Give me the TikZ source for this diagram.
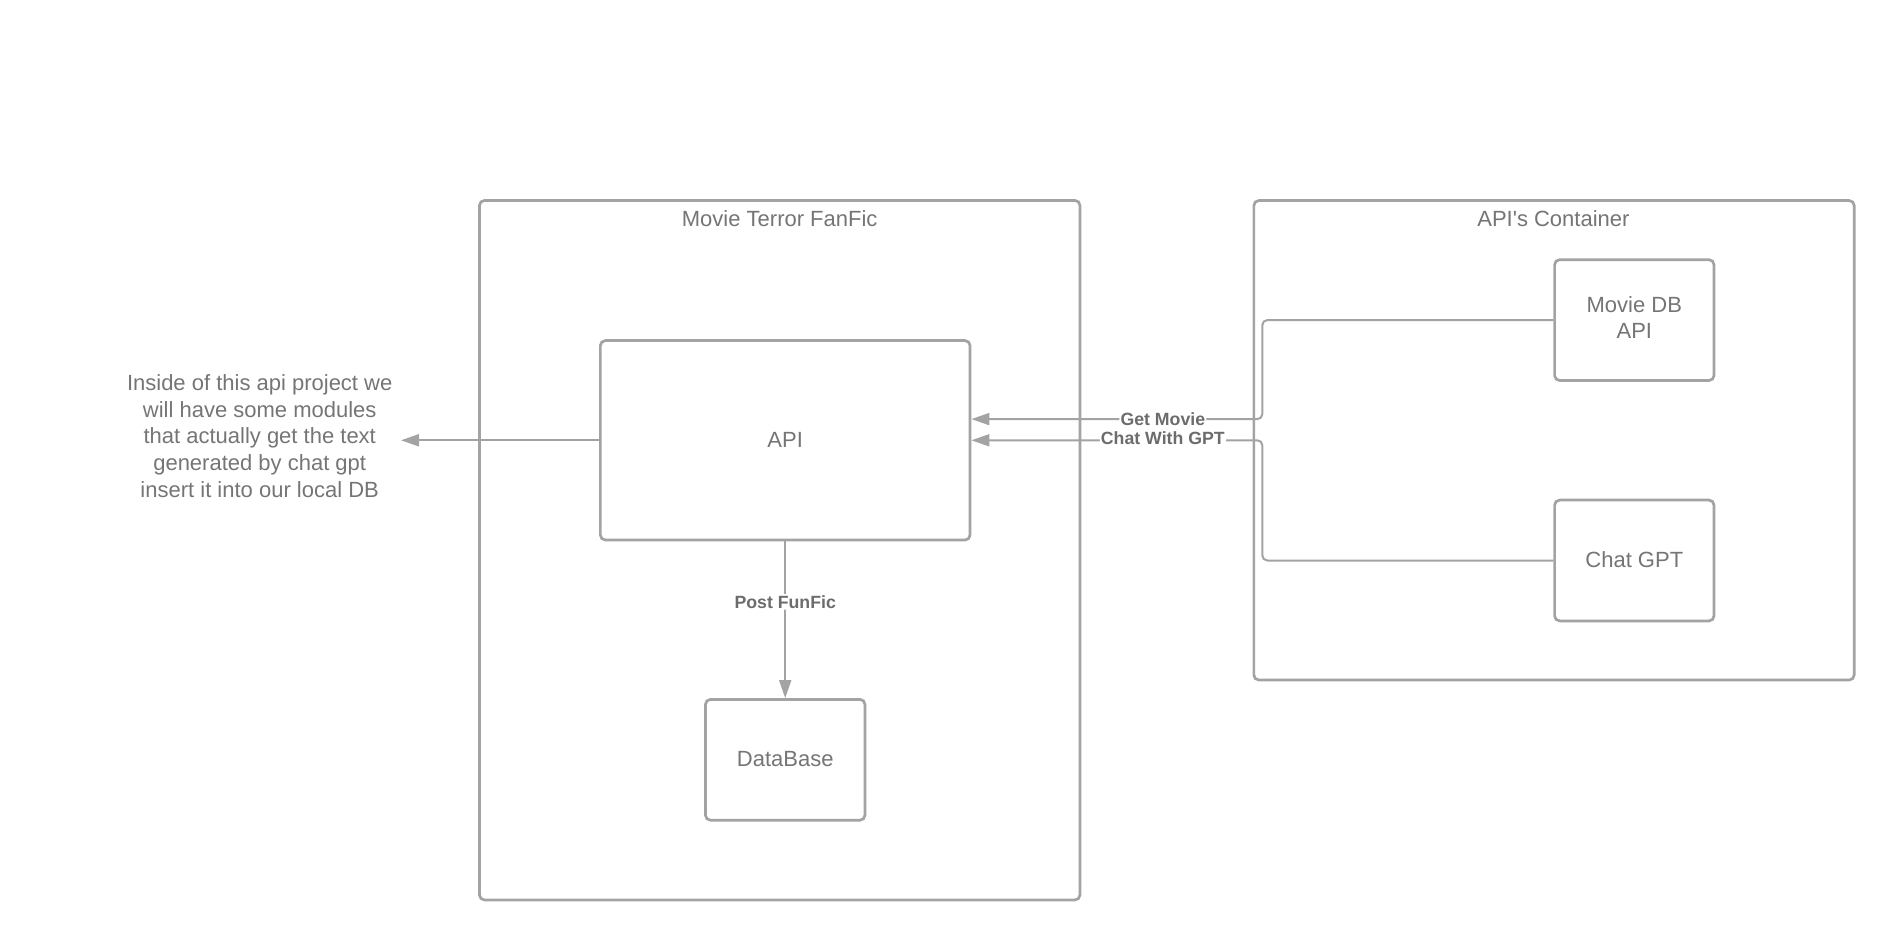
\documentclass[tikz,border=0pt]{standalone}
\usepackage{fontspec}
\setmainfont{Liberation Sans}
\newfontfamily\plainsans{Liberation Sans}
\usetikzlibrary{arrows.meta}
\definecolor{linegray}{RGB}{163,163,163}
\definecolor{textgray}{RGB}{117,117,117}
\definecolor{lblgray}{RGB}{108,108,108}
\tikzset{
  box/.style={draw=linegray, line width=1.35pt, rounded corners=2.5pt, fill=white,
    text=textgray, align=center, inner sep=0pt, font=\fontsize{11}{13.3}\selectfont},
  container/.style={box},
  title/.style={text=textgray, inner sep=0pt, font=\fontsize{11}{13.3}\selectfont},
  note/.style={text=textgray, align=center, inner sep=0pt, font=\fontsize{11}{13.3}\selectfont},
  conn/.style={draw=linegray, line width=1pt, rounded corners=2.5pt,
    -{Triangle[length=9pt,width=6pt]}},
  lbl/.style={fill=white, text=lblgray, inner sep=0.6pt, font=\bfseries\fontsize{8.85}{10}\selectfont},
}
\begin{document}
\begin{tikzpicture}[x=0.5pt,y=-0.5pt]
\useasboundingbox (0,0) rectangle (1894,940);
% containers
\node[container, minimum width=300.25pt, minimum height=349.75pt] (fanfic) at (779.7,550.2) {};
\node[title] (fanfictitle) at (779.7,218.6) {Movie Terror FanFic};
\node[container, minimum width=300.15pt, minimum height=239.75pt] (apis) at (1554,440.3) {};
\node[title] (apistitle) at (1553.4,218.6) {\plainsans API's Container};
% boxes
\node[box, minimum width=184.85pt, minimum height=99.7pt] (api) at (785.2,440.3) {API};
\node[box, minimum width=79.75pt, minimum height=60.4pt] (db) at (785.2,759.8) {\raisebox{0.6pt}{DataBase}};
\node[box, minimum width=79.7pt, minimum height=60.4pt] (mdb) at (1634.3,320.1) {\raisebox{1.5pt}{\begin{tabular}{@{}c@{}}Movie DB\\API\end{tabular}}};
\node[box, minimum width=79.7pt, minimum height=60.4pt] (gpt) at (1634.3,560.5) {\raisebox{1pt}{Chat GPT}};
% note
\node[note] (note) at (259.7,436) {Inside of this api project we\\will have some modules\\that actually get the text\\generated by chat gpt\\insert it into our local DB};
\coordinate (noteend) at (401,440.3);
% bends
\coordinate (b1) at (1262.3,419.1);
\coordinate (b2) at (1262.3,440.3);
% connectors
\draw[conn] (api.west) -- (noteend);
\draw[conn] (api.south) -- node[lbl, pos=0.386] {Post FunFic} (db.north);
\draw[conn] (mdb.west) -| (b1) -- node[lbl, pos=0.342] {Get Movie} (api.east |- b1);
\draw[conn] (gpt.west) -| (b2) -- node[lbl, pos=0.342, yshift=1pt] {Chat With GPT} (api.east |- b2);
\end{tikzpicture}
\end{document}
